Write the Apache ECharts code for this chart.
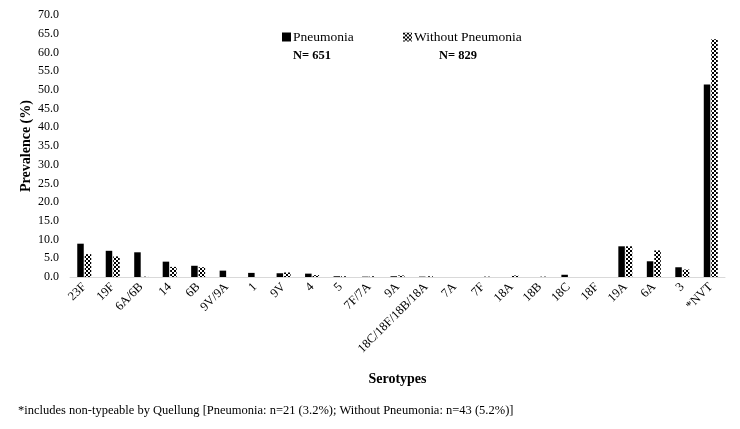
<!DOCTYPE html>
<html>
<head>
<meta charset="utf-8">
<script src="https://cdn.jsdelivr.net/npm/echarts@6/dist/echarts.min.js"></script>
<style>html,body{margin:0;padding:0;background:#fff}#c{width:740px;height:429px}</style>
</head>
<body>
<div id="c"></div>
<script>
const categories = ['23F','19F','6A/6B','14','6B','9V/9A','1','9V','4','5','7F/7A','9A','18C/18F/18B/18A','7A','7F','18A','18B','18C','18F','19A','6A','3','*NVT'];
const pneumonia = [8.9,7.0,6.6,4.1,3.0,1.7,1.1,1.0,0.9,0.2,0.1,0.2,0.1,0,0,0,0,0.6,0,8.2,4.2,2.6,51.4];
const withoutPneumonia = [6.1,5.5,0.1,2.7,2.6,0,0,1.2,0.5,0.2,0.2,0.4,0.2,0,0.1,0.4,0.1,0,0,8.2,7.1,2.0,63.5];
const yTicks = [0,5,10,15,20,25,30,35,40,45,50,55,60,65,70];
const seriesNames = ['Pneumonia','Without Pneumonia'];
const nLabels = ['N= 651','N= 829'];
const footnote = '*includes non-typeable by Quellung [Pneumonia: n=21 (3.2%); Without Pneumonia: n=43 (5.2%)]';

const font = '"Liberation Serif", "Times New Roman", serif';
const pc = document.createElement('canvas');
pc.width = 4; pc.height = 4;
const g = pc.getContext('2d');
g.fillStyle = '#fff'; g.fillRect(0,0,4,4);
g.fillStyle = '#000'; g.fillRect(0,0,2,2); g.fillRect(2,2,2,2);
const checker = {image: pc, repeat: 'repeat'};

const chart = echarts.init(document.getElementById('c'), null, {renderer:'canvas'});
chart.setOption({
  animation: false,
  backgroundColor: '#fff',
  textStyle: {fontFamily: font, color: '#000'},
  grid: {left: 70, right: 15, top: 15, bottom: 152, containLabel: false},
  legend: [
    {data: [seriesNames[0]], left: 277, top: 25, itemWidth: 9, itemHeight: 9, icon: 'rect',
     textStyle: {fontFamily: font, fontSize: 13.5, color: '#000', padding: [0,0,0,-3]}},
    {data: [seriesNames[1]], left: 398, top: 25, itemWidth: 9, itemHeight: 9, icon: 'rect',
     textStyle: {fontFamily: font, fontSize: 13.5, color: '#000', padding: [0,0,0,-3]}}
  ],
  graphic: [
    {type: 'text', left: 293, top: 49, style: {text: nLabels[0], font: 'bold 12.5px ' + font, fill: '#000'}},
    {type: 'text', left: 439, top: 49, style: {text: nLabels[1], font: 'bold 12.5px ' + font, fill: '#000'}},
    {type: 'text', left: 18, top: 404, style: {text: footnote, font: '12.5px ' + font, fill: '#000'}}
  ],
  xAxis: {
    type: 'category', data: categories,
    name: 'Serotypes', nameLocation: 'middle', nameGap: 95,
    nameTextStyle: {fontFamily: font, fontSize: 14, fontWeight: 'bold', color: '#000'},
    axisLine: {lineStyle: {color: '#d9d9d9', width: 1}},
    axisTick: {show: false},
    axisLabel: {rotate: 45, interval: 0, fontFamily: font, fontSize: 12.5, color: '#000', margin: 8}
  },
  yAxis: {
    type: 'value', min: 0, max: 70, interval: 5,
    name: 'Prevalence (%)', nameLocation: 'middle', nameGap: 37, nameMoveOverlap: false,
    nameTextStyle: {fontFamily: font, fontSize: 14, fontWeight: 'bold', color: '#000'},
    axisLine: {show: false}, axisTick: {show: false},
    splitLine: {show: false},
    axisLabel: {fontFamily: font, fontSize: 12, color: '#000', margin: 11,
      formatter: v => yTicks.includes(v) ? v.toFixed(1) : ''}
  },
  series: [
    {name: seriesNames[0], type: 'bar', data: pneumonia, barWidth: 6.5, barGap: '15%',
     itemStyle: {color: '#000'}},
    {name: seriesNames[1], type: 'bar', data: withoutPneumonia, barWidth: 6.5,
     itemStyle: {color: checker}}
  ]
});
</script>
</body>
</html>
